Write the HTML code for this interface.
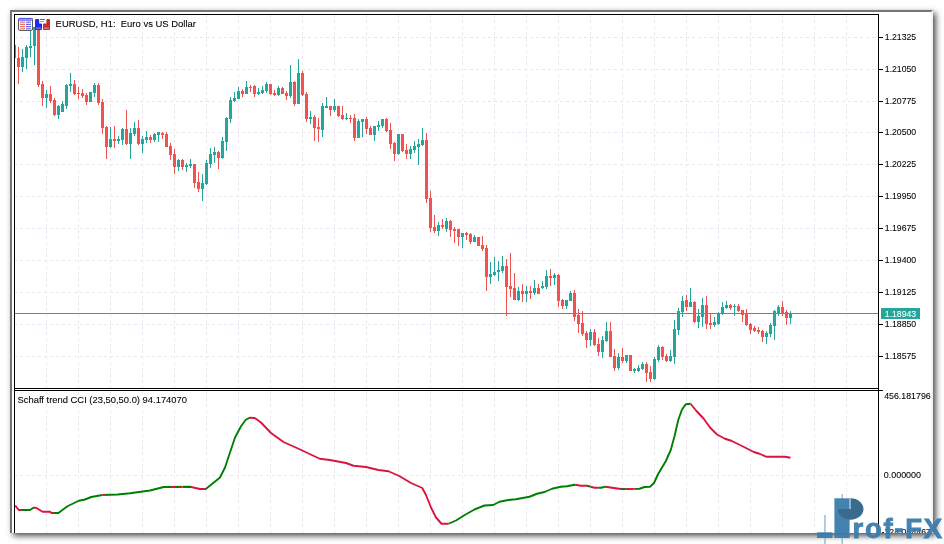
<!DOCTYPE html>
<html><head><meta charset="utf-8"><title>EURUSD H1 - Schaff trend CCI</title>
<style>
html,body{margin:0;padding:0;background:#fff;}
body{width:944px;height:544px;overflow:hidden;position:relative;font-family:"Liberation Sans",sans-serif;}
#frame{position:absolute;left:10px;top:10px;width:919px;height:521px;background:#fff;border-top:2px solid #757575;border-left:2px solid #757575;border-right:2px solid #f4f4f4;box-shadow:3px 3px 6px rgba(0,0,0,.68), -1px -1px 4px rgba(0,0,0,.04);}
svg{position:absolute;left:0;top:0;}
svg text{font-family:"Liberation Sans",sans-serif;font-size:9.7px;fill:#000;stroke:#000;stroke-width:.08px;}
#ttl,#ind{font-size:9.2px}
#logo{position:absolute;left:0;top:0;opacity:.95}
</style></head><body>
<div id="frame"></div>
<svg width="944" height="544" viewBox="0 0 944 544">
<defs><clipPath id="cc"><rect x="15" y="15" width="863" height="373"/></clipPath><clipPath id="fc"><rect x="12" y="12" width="919" height="521"/></clipPath></defs>
<g clip-path="url(#fc)">
<g stroke="#ede5f0" stroke-width="1" stroke-dasharray="3 3" shape-rendering="crispEdges"><line x1="14" y1="37.5" x2="878" y2="37.5"/><line x1="14" y1="69.5" x2="878" y2="69.5"/><line x1="14" y1="101.5" x2="878" y2="101.5"/><line x1="14" y1="132.5" x2="878" y2="132.5"/><line x1="14" y1="164.5" x2="878" y2="164.5"/><line x1="14" y1="196.5" x2="878" y2="196.5"/><line x1="14" y1="228.5" x2="878" y2="228.5"/><line x1="14" y1="260.5" x2="878" y2="260.5"/><line x1="14" y1="292.5" x2="878" y2="292.5"/><line x1="14" y1="324.5" x2="878" y2="324.5"/><line x1="14" y1="356.5" x2="878" y2="356.5"/><line x1="46.5" y1="14" x2="46.5" y2="388"/><line x1="46.5" y1="392" x2="46.5" y2="533"/><line x1="78.5" y1="14" x2="78.5" y2="388"/><line x1="78.5" y1="392" x2="78.5" y2="533"/><line x1="110.5" y1="14" x2="110.5" y2="388"/><line x1="110.5" y1="392" x2="110.5" y2="533"/><line x1="142.5" y1="14" x2="142.5" y2="388"/><line x1="142.5" y1="392" x2="142.5" y2="533"/><line x1="174.5" y1="14" x2="174.5" y2="388"/><line x1="174.5" y1="392" x2="174.5" y2="533"/><line x1="206.5" y1="14" x2="206.5" y2="388"/><line x1="206.5" y1="392" x2="206.5" y2="533"/><line x1="238.5" y1="14" x2="238.5" y2="388"/><line x1="238.5" y1="392" x2="238.5" y2="533"/><line x1="270.5" y1="14" x2="270.5" y2="388"/><line x1="270.5" y1="392" x2="270.5" y2="533"/><line x1="302.5" y1="14" x2="302.5" y2="388"/><line x1="302.5" y1="392" x2="302.5" y2="533"/><line x1="334.5" y1="14" x2="334.5" y2="388"/><line x1="334.5" y1="392" x2="334.5" y2="533"/><line x1="366.5" y1="14" x2="366.5" y2="388"/><line x1="366.5" y1="392" x2="366.5" y2="533"/><line x1="398.5" y1="14" x2="398.5" y2="388"/><line x1="398.5" y1="392" x2="398.5" y2="533"/><line x1="430.5" y1="14" x2="430.5" y2="388"/><line x1="430.5" y1="392" x2="430.5" y2="533"/><line x1="462.5" y1="14" x2="462.5" y2="388"/><line x1="462.5" y1="392" x2="462.5" y2="533"/><line x1="494.5" y1="14" x2="494.5" y2="388"/><line x1="494.5" y1="392" x2="494.5" y2="533"/><line x1="526.5" y1="14" x2="526.5" y2="388"/><line x1="526.5" y1="392" x2="526.5" y2="533"/><line x1="558.5" y1="14" x2="558.5" y2="388"/><line x1="558.5" y1="392" x2="558.5" y2="533"/><line x1="590.5" y1="14" x2="590.5" y2="388"/><line x1="590.5" y1="392" x2="590.5" y2="533"/><line x1="622.5" y1="14" x2="622.5" y2="388"/><line x1="622.5" y1="392" x2="622.5" y2="533"/><line x1="654.5" y1="14" x2="654.5" y2="388"/><line x1="654.5" y1="392" x2="654.5" y2="533"/><line x1="686.5" y1="14" x2="686.5" y2="388"/><line x1="686.5" y1="392" x2="686.5" y2="533"/><line x1="718.5" y1="14" x2="718.5" y2="388"/><line x1="718.5" y1="392" x2="718.5" y2="533"/><line x1="750.5" y1="14" x2="750.5" y2="388"/><line x1="750.5" y1="392" x2="750.5" y2="533"/><line x1="782.5" y1="14" x2="782.5" y2="388"/><line x1="782.5" y1="392" x2="782.5" y2="533"/><line x1="814.5" y1="14" x2="814.5" y2="388"/><line x1="814.5" y1="392" x2="814.5" y2="533"/><line x1="846.5" y1="14" x2="846.5" y2="388"/><line x1="846.5" y1="392" x2="846.5" y2="533"/><line x1="14" y1="475.5" x2="882" y2="475.5"/></g>
<rect x="14" y="313" width="864" height="1" fill="#26a69a" shape-rendering="crispEdges"/>
<g shape-rendering="crispEdges" clip-path="url(#cc)"><path fill="#26a69a" d="M22 49h1v23h-1zM21 57h3v10h-3zM26 45h1v24h-1zM25 47h3v11h-3zM30 28h1v29h-1zM29 46h3v2h-3zM34 27h1v38h-1zM33 27h3v19h-3zM46 90h1v18h-1zM45 94h3v4h-3zM58 105h1v14h-1zM57 106h3v9h-3zM62 101h1v11h-1zM61 104h3v8h-3zM66 84h1v25h-1zM65 85h3v21h-3zM70 73h1v19h-1zM69 84h3v2h-3zM90 92h1v10h-1zM89 92h3v10h-3zM94 83h1v14h-1zM93 85h3v8h-3zM110 127h1v21h-1zM109 139h3v8h-3zM118 136h1v8h-1zM117 139h3v2h-3zM122 128h1v17h-1zM121 129h3v11h-3zM130 128h1v31h-1zM129 133h3v11h-3zM134 122h1v14h-1zM133 128h3v6h-3zM142 136h1v17h-1zM141 139h3v5h-3zM146 131h1v12h-1zM145 137h3v3h-3zM154 133h1v9h-1zM153 134h3v6h-3zM158 132h1v10h-1zM157 132h3v3h-3zM178 159h1v12h-1zM177 160h3v7h-3zM186 163h1v9h-1zM185 165h3v2h-3zM190 159h1v9h-1zM189 164h3v2h-3zM202 174h1v27h-1zM201 183h3v6h-3zM206 160h1v25h-1zM205 163h3v21h-3zM210 148h1v20h-1zM209 154h3v10h-3zM214 147h1v16h-1zM213 152h3v3h-3zM222 137h1v22h-1zM221 141h3v17h-3zM226 117h1v34h-1zM225 118h3v24h-3zM230 97h1v26h-1zM229 100h3v19h-3zM234 92h1v10h-1zM233 98h3v3h-3zM238 87h1v12h-1zM237 91h3v8h-3zM246 81h1v13h-1zM245 87h3v7h-3zM258 88h1v7h-1zM257 92h3v2h-3zM262 86h1v8h-1zM261 90h3v3h-3zM266 82h1v11h-1zM265 84h3v7h-3zM278 86h1v10h-1zM277 88h3v7h-3zM290 65h1v33h-1zM289 82h3v14h-3zM298 59h1v45h-1zM297 73h3v31h-3zM310 111h1v13h-1zM309 117h3v2h-3zM322 103h1v34h-1zM321 106h3v24h-3zM326 97h1v11h-1zM325 106h3v2h-3zM334 99h1v13h-1zM333 106h3v4h-3zM346 113h1v7h-1zM345 118h3v1h-3zM358 119h1v19h-1zM357 121h3v17h-3zM362 119h1v18h-1zM361 119h3v3h-3zM374 126h1v15h-1zM373 126h3v9h-3zM378 121h1v10h-1zM377 125h3v2h-3zM382 119h1v9h-1zM381 119h3v7h-3zM398 134h1v21h-1zM397 134h3v20h-3zM410 146h1v13h-1zM409 149h3v5h-3zM414 141h1v12h-1zM413 146h3v4h-3zM418 139h1v26h-1zM417 144h3v3h-3zM422 128h1v18h-1zM421 140h3v5h-3zM438 222h1v14h-1zM437 225h3v6h-3zM446 218h1v14h-1zM445 221h3v8h-3zM462 233h1v15h-1zM461 233h3v4h-3zM474 235h1v7h-1zM473 237h3v5h-3zM490 262h1v22h-1zM489 274h3v3h-3zM494 257h1v19h-1zM493 272h3v3h-3zM498 261h1v20h-1zM497 270h3v2h-3zM502 256h1v17h-1zM501 266h3v5h-3zM518 287h1v14h-1zM517 291h3v9h-3zM526 286h1v16h-1zM525 291h3v3h-3zM534 280h1v15h-1zM533 288h3v5h-3zM542 281h1v8h-1zM541 286h3v2h-3zM546 270h1v19h-1zM545 276h3v11h-3zM554 273h1v12h-1zM553 275h3v3h-3zM566 300h1v9h-1zM565 300h3v6h-3zM570 291h1v10h-1zM569 293h3v8h-3zM590 329h1v17h-1zM589 332h3v8h-3zM602 336h1v22h-1zM601 340h3v12h-3zM606 322h1v20h-1zM605 331h3v10h-3zM618 353h1v17h-1zM617 357h3v11h-3zM626 355h1v8h-1zM625 355h3v6h-3zM634 368h1v5h-1zM633 369h3v2h-3zM638 365h1v7h-1zM637 368h3v3h-3zM642 362h1v8h-1zM641 364h3v5h-3zM654 357h1v23h-1zM653 359h3v20h-3zM658 345h1v17h-1zM657 347h3v13h-3zM670 350h1v12h-1zM669 356h3v5h-3zM674 320h1v44h-1zM673 329h3v28h-3zM678 308h1v27h-1zM677 311h3v19h-3zM682 296h1v21h-1zM681 301h3v11h-3zM690 288h1v19h-1zM689 302h3v5h-3zM698 309h1v19h-1zM697 316h3v6h-3zM702 298h1v29h-1zM701 305h3v12h-3zM714 317h1v10h-1zM713 322h3v3h-3zM718 312h1v13h-1zM717 313h3v11h-3zM722 302h1v13h-1zM721 307h3v7h-3zM726 301h1v8h-1zM725 305h3v3h-3zM734 304h1v12h-1zM733 306h3v1h-3zM766 331h1v13h-1zM765 333h3v4h-3zM770 323h1v14h-1zM769 325h3v9h-3zM774 310h1v30h-1zM773 311h3v15h-3zM778 305h1v11h-1zM777 307h3v7h-3zM790 311h1v13h-1zM789 313h3v5h-3z"/><path fill="#ef5350" d="M14 45h1v13h-1zM13 45h3v13h-3zM18 47h1v37h-1zM17 58h3v9h-3zM38 27h1v60h-1zM37 27h3v58h-3zM42 81h1v25h-1zM41 84h3v14h-3zM50 86h1v17h-1zM49 94h3v7h-3zM54 98h1v18h-1zM53 100h3v15h-3zM74 80h1v15h-1zM73 84h3v10h-3zM78 87h1v12h-1zM77 93h3v1h-3zM82 89h1v9h-1zM81 93h3v3h-3zM86 93h1v12h-1zM85 95h3v7h-3zM98 83h1v22h-1zM97 85h3v18h-3zM102 99h1v35h-1zM101 102h3v26h-3zM106 126h1v33h-1zM105 127h3v20h-3zM114 126h1v22h-1zM113 139h3v2h-3zM126 110h1v35h-1zM125 129h3v15h-3zM138 120h1v25h-1zM137 128h3v16h-3zM150 135h1v8h-1zM149 137h3v3h-3zM162 132h1v7h-1zM161 133h3v2h-3zM166 132h1v15h-1zM165 134h3v13h-3zM170 143h1v17h-1zM169 146h3v9h-3zM174 149h1v25h-1zM173 154h3v13h-3zM182 159h1v11h-1zM181 160h3v7h-3zM194 164h1v24h-1zM193 164h3v19h-3zM198 172h1v20h-1zM197 182h3v7h-3zM218 151h1v18h-1zM217 152h3v6h-3zM242 89h1v8h-1zM241 91h3v3h-3zM250 85h1v7h-1zM249 87h3v1h-3zM254 85h1v12h-1zM253 86h3v8h-3zM270 84h1v11h-1zM269 84h3v10h-3zM274 90h1v6h-1zM273 93h3v2h-3zM282 87h1v7h-1zM281 88h3v6h-3zM286 91h1v9h-1zM285 93h3v3h-3zM294 81h1v25h-1zM293 82h3v22h-3zM302 71h1v25h-1zM301 73h3v22h-3zM306 92h1v30h-1zM305 94h3v25h-3zM314 115h1v26h-1zM313 117h3v11h-3zM318 118h1v24h-1zM317 127h3v2h-3zM330 106h1v10h-1zM329 106h3v4h-3zM338 106h1v11h-1zM337 106h3v10h-3zM342 106h1v14h-1zM341 115h3v4h-3zM350 115h1v8h-1zM349 118h3v1h-3zM354 114h1v27h-1zM353 118h3v20h-3zM366 117h1v17h-1zM365 119h3v10h-3zM370 126h1v9h-1zM369 128h3v7h-3zM386 118h1v14h-1zM385 119h3v12h-3zM390 123h1v26h-1zM389 130h3v14h-3zM394 142h1v19h-1zM393 143h3v11h-3zM402 134h1v18h-1zM401 134h3v17h-3zM406 144h1v15h-1zM405 150h3v4h-3zM426 133h1v70h-1zM425 140h3v59h-3zM430 191h1v41h-1zM429 198h3v30h-3zM434 215h1v18h-1zM433 227h3v4h-3zM442 219h1v10h-1zM441 225h3v2h-3zM450 220h1v17h-1zM449 221h3v9h-3zM454 227h1v16h-1zM453 229h3v2h-3zM458 229h1v17h-1zM457 229h3v8h-3zM466 232h1v8h-1zM465 233h3v2h-3zM470 233h1v11h-1zM469 234h3v8h-3zM478 237h1v9h-1zM477 237h3v9h-3zM482 236h1v15h-1zM481 245h3v4h-3zM486 245h1v46h-1zM485 248h3v29h-3zM506 259h1v57h-1zM505 266h3v21h-3zM510 253h1v44h-1zM509 286h3v3h-3zM514 273h1v27h-1zM513 288h3v12h-3zM522 284h1v18h-1zM521 291h3v3h-3zM530 286h1v13h-1zM529 291h3v2h-3zM538 284h1v10h-1zM537 288h3v6h-3zM550 269h1v17h-1zM549 276h3v2h-3zM558 274h1v33h-1zM557 275h3v26h-3zM562 299h1v10h-1zM561 300h3v6h-3zM574 290h1v31h-1zM573 293h3v24h-3zM578 309h1v24h-1zM577 315h3v9h-3zM582 311h1v25h-1zM581 323h3v11h-3zM586 331h1v17h-1zM585 333h3v7h-3zM594 329h1v17h-1zM593 332h3v13h-3zM598 338h1v18h-1zM597 344h3v8h-3zM610 322h1v35h-1zM609 331h3v26h-3zM614 349h1v22h-1zM613 356h3v12h-3zM622 348h1v15h-1zM621 357h3v4h-3zM630 355h1v16h-1zM629 355h3v16h-3zM646 362h1v20h-1zM645 364h3v9h-3zM650 366h1v16h-1zM649 372h3v7h-3zM662 346h1v14h-1zM661 347h3v10h-3zM666 354h1v8h-1zM665 356h3v5h-3zM686 295h1v16h-1zM685 300h3v7h-3zM694 301h1v22h-1zM693 302h3v20h-3zM706 296h1v33h-1zM705 305h3v19h-3zM710 314h1v15h-1zM709 323h3v2h-3zM730 304h1v6h-1zM729 305h3v3h-3zM738 304h1v8h-1zM737 306h3v5h-3zM742 310h1v12h-1zM741 310h3v5h-3zM746 309h1v17h-1zM745 313h3v12h-3zM750 323h1v11h-1zM749 324h3v6h-3zM754 326h1v6h-1zM753 328h3v3h-3zM758 327h1v7h-1zM757 330h3v2h-3zM762 330h1v12h-1zM761 331h3v6h-3zM782 301h1v15h-1zM781 307h3v7h-3zM786 310h1v15h-1zM785 312h3v6h-3z"/></g>
<clipPath id="rc"><rect x="14" y="390" width="8" height="150"/><rect x="34" y="390" width="20" height="150"/><rect x="102.5" y="390" width="3.5" height="150"/><rect x="171" y="390" width="4" height="150"/><rect x="179" y="390" width="3.5" height="150"/><rect x="191" y="390" width="15" height="150"/><rect x="250" y="390" width="198.5" height="150"/><rect x="575.75" y="390" width="11.25" height="150"/><rect x="590.75" y="390" width="7.5" height="150"/><rect x="605.75" y="390" width="16.25" height="150"/><rect x="625.75" y="390" width="8.75" height="150"/><rect x="690.5" y="390" width="101.5" height="150"/></clipPath><clipPath id="gc"><rect x="22" y="390" width="12" height="150"/><rect x="54" y="390" width="48.5" height="150"/><rect x="106" y="390" width="65" height="150"/><rect x="175" y="390" width="4" height="150"/><rect x="182.5" y="390" width="8.5" height="150"/><rect x="206" y="390" width="44" height="150"/><rect x="448.5" y="390" width="127.25" height="150"/><rect x="587" y="390" width="3.75" height="150"/><rect x="598.25" y="390" width="7.5" height="150"/><rect x="622" y="390" width="3.75" height="150"/><rect x="634.5" y="390" width="56" height="150"/></clipPath><polyline points="15.2,505.5 18.75,510 30,510 33.5,507.7 36,507.7 42.6,511.8 50,511.8 51.5,513 58.5,513 61,511 67.5,506.25 78.75,500.75 85,499.5 91.25,497 102.5,495 117.5,494.5 130,493.25 150,490.5 163.75,487 190,486.75 200,489 205.75,489 220,477.5 225,467.5 235,437.5 241,426.25 246,419.5 249.75,417.75 254.75,418 261,422.5 271,433 283.5,442 298.5,448.75 319.75,458.75 329.75,460 346,463 353.5,465.75 366,467 378.5,470 388.5,471.25 399.75,476.25 411,483 422.25,488 426,495 431,507.5 436,517.5 441.5,523.75 448.5,523.75 456,520.5 464.75,515 474.5,509.5 484.5,505.5 493.25,505 499.5,501.75 508.25,500 515.75,499.25 529.5,496.75 537,493.75 544.5,492 552,488.75 560.75,486.75 567,486.25 574.5,484.75 580.75,485.75 587,485.75 594.5,487.75 600.75,487.75 605.75,486.75 612,487.75 620.75,489 627,489 639.5,488.75 644.5,487 650,486.75 654,483 658.25,473.75 665.75,461.25 670.75,450 674.5,436.25 678.25,420 682,409.5 685.75,404.25 690.5,403.75 696.25,410.75 703.75,418.75 710,427.5 717,434.5 725,438.75 731.25,440.75 742.5,446.25 753.75,452 759.5,453.75 766.25,456.75 785,456.75 790.5,457.75" fill="none" stroke="#008000" stroke-width="1.9" stroke-linejoin="round" clip-path="url(#gc)"/><polyline points="15.2,505.5 18.75,510 30,510 33.5,507.7 36,507.7 42.6,511.8 50,511.8 51.5,513 58.5,513 61,511 67.5,506.25 78.75,500.75 85,499.5 91.25,497 102.5,495 117.5,494.5 130,493.25 150,490.5 163.75,487 190,486.75 200,489 205.75,489 220,477.5 225,467.5 235,437.5 241,426.25 246,419.5 249.75,417.75 254.75,418 261,422.5 271,433 283.5,442 298.5,448.75 319.75,458.75 329.75,460 346,463 353.5,465.75 366,467 378.5,470 388.5,471.25 399.75,476.25 411,483 422.25,488 426,495 431,507.5 436,517.5 441.5,523.75 448.5,523.75 456,520.5 464.75,515 474.5,509.5 484.5,505.5 493.25,505 499.5,501.75 508.25,500 515.75,499.25 529.5,496.75 537,493.75 544.5,492 552,488.75 560.75,486.75 567,486.25 574.5,484.75 580.75,485.75 587,485.75 594.5,487.75 600.75,487.75 605.75,486.75 612,487.75 620.75,489 627,489 639.5,488.75 644.5,487 650,486.75 654,483 658.25,473.75 665.75,461.25 670.75,450 674.5,436.25 678.25,420 682,409.5 685.75,404.25 690.5,403.75 696.25,410.75 703.75,418.75 710,427.5 717,434.5 725,438.75 731.25,440.75 742.5,446.25 753.75,452 759.5,453.75 766.25,456.75 785,456.75 790.5,457.75" fill="none" stroke="#dc143c" stroke-width="1.9" stroke-linejoin="round" clip-path="url(#rc)"/>
<g fill="#000" shape-rendering="crispEdges">
<rect x="14" y="14" width="865" height="1"/>
<rect x="14" y="14" width="1" height="520"/>
<rect x="878" y="14" width="1" height="520"/>
<rect x="14" y="388" width="865" height="1"/>
<rect x="14" y="390" width="869" height="1"/>
</g>
<rect x="878" y="37" width="5" height="1" fill="#000" shape-rendering="crispEdges"/><text x="884.8" y="40.4" textLength="31.4" lengthAdjust="spacingAndGlyphs">1.21325</text><rect x="878" y="69" width="5" height="1" fill="#000" shape-rendering="crispEdges"/><text x="884.8" y="72.4" textLength="31.4" lengthAdjust="spacingAndGlyphs">1.21050</text><rect x="878" y="101" width="5" height="1" fill="#000" shape-rendering="crispEdges"/><text x="884.8" y="104.4" textLength="31.4" lengthAdjust="spacingAndGlyphs">1.20775</text><rect x="878" y="132" width="5" height="1" fill="#000" shape-rendering="crispEdges"/><text x="884.8" y="135.4" textLength="31.4" lengthAdjust="spacingAndGlyphs">1.20500</text><rect x="878" y="164" width="5" height="1" fill="#000" shape-rendering="crispEdges"/><text x="884.8" y="167.4" textLength="31.4" lengthAdjust="spacingAndGlyphs">1.20225</text><rect x="878" y="196" width="5" height="1" fill="#000" shape-rendering="crispEdges"/><text x="884.8" y="199.4" textLength="31.4" lengthAdjust="spacingAndGlyphs">1.19950</text><rect x="878" y="228" width="5" height="1" fill="#000" shape-rendering="crispEdges"/><text x="884.8" y="231.4" textLength="31.4" lengthAdjust="spacingAndGlyphs">1.19675</text><rect x="878" y="260" width="5" height="1" fill="#000" shape-rendering="crispEdges"/><text x="884.8" y="263.4" textLength="31.4" lengthAdjust="spacingAndGlyphs">1.19400</text><rect x="878" y="292" width="5" height="1" fill="#000" shape-rendering="crispEdges"/><text x="884.8" y="295.4" textLength="31.4" lengthAdjust="spacingAndGlyphs">1.19125</text><rect x="878" y="324" width="5" height="1" fill="#000" shape-rendering="crispEdges"/><text x="884.8" y="327.4" textLength="31.4" lengthAdjust="spacingAndGlyphs">1.18850</text><rect x="878" y="356" width="5" height="1" fill="#000" shape-rendering="crispEdges"/><text x="884.8" y="359.4" textLength="31.4" lengthAdjust="spacingAndGlyphs">1.18575</text>
<rect x="881" y="308" width="39" height="11" fill="#26a69a" shape-rendering="crispEdges"/>
<text x="884.8" y="316.9" style="fill:#fff;stroke:#fff" textLength="31.4" lengthAdjust="spacingAndGlyphs">1.18943</text>
<text x="884.2" y="399" textLength="46.5" lengthAdjust="spacingAndGlyphs">456.181796</text>
<text x="883.8" y="478" textLength="37.2" lengthAdjust="spacingAndGlyphs">0.000000</text>
<text x="881.5" y="535" textLength="49.5" lengthAdjust="spacingAndGlyphs">-324.054467</text>
<text x="55.6" y="27.4" id="ttl" xml:space="preserve" textLength="140.4" lengthAdjust="spacingAndGlyphs">EURUSD, H1:  Euro vs US Dollar</text>
<text x="17.5" y="402.8" id="ind" textLength="169.5" lengthAdjust="spacingAndGlyphs">Schaff trend CCI (23,50,50.0) 94.174070</text>
<!-- icons -->
<g>
<rect x="18.5" y="18.5" width="14" height="12" rx="1.5" fill="#fff" stroke="#5a5a5a"/>
<rect x="18.4" y="18.4" width="14.2" height="1.8" rx=".9" fill="#b4b4ff" stroke="#4a4aff" stroke-width=".9"/>
<g fill="#e8706a"><rect x="20" y="21.6" width="5" height="1.2"/><rect x="20" y="23.8" width="5" height="1.2"/><rect x="20" y="26" width="5" height="1.2"/><rect x="20" y="28.2" width="5" height="1.2"/></g>
<g fill="#6a6af0"><rect x="26" y="21.6" width="5" height="1.2"/><rect x="26" y="23.8" width="5" height="1.2"/><rect x="26" y="26" width="5" height="1.2"/><rect x="26" y="28.2" width="5" height="1.2"/></g>
<path d="M36 19h2.2a1 1 0 0 1 1 1v3.6h1.8a1 1 0 0 1 1 1v4.4a1 1 0 0 1-1 1h-5a1 1 0 0 1-1-1v-9a1 1 0 0 1 1-1z" fill="#2626ee"/>
<rect x="36.2" y="27.6" width="4.8" height="1" fill="#9a9af5"/>
<path d="M47.6 19h1.4a1 1 0 0 1 1 1v9a1 1 0 0 1-1 1h-5a1 1 0 0 1-1-1v-4.4a1 1 0 0 1 1-1h2.4v-3.6a1 1 0 0 1 1-1z" fill="#c23030"/>
<rect x="44" y="27.6" width="5" height="1" fill="#e39a9a"/>
<rect x="40" y="19" width="5" height="1" fill="#666"/><rect x="40" y="21" width="4" height="1" fill="#999"/>
</g>
</g>
</svg>
<svg id="logo" width="944" height="544" viewBox="0 0 944 544">
<rect x="824.3" y="515" width="1.3" height="29" fill="#86aeca"/>
<rect x="841.5" y="494" width="1.3" height="50" fill="#86aeca"/>
<rect x="817" y="532.3" width="15.5" height="5.7" fill="#3b7dac"/>
<rect x="834.4" y="498.3" width="15.2" height="39.7" fill="#3b7dac"/>
<path d="M850.6 498.3 A12.85 10.7 0 1 1 837.8 509 L850.6 509 Z" fill="#2f6489"/>
<rect x="849.2" y="498.3" width="1.6" height="10.5" fill="#86aeca"/>
<text x="852.5" y="537.6" style="font-family:'Liberation Sans',sans-serif;font-weight:bold;font-size:27.5px;fill:#3b7dac;stroke:#3b7dac;stroke-width:.9px" textLength="89.5" lengthAdjust="spacing">rof-FX</text>
</svg>
</body></html>
